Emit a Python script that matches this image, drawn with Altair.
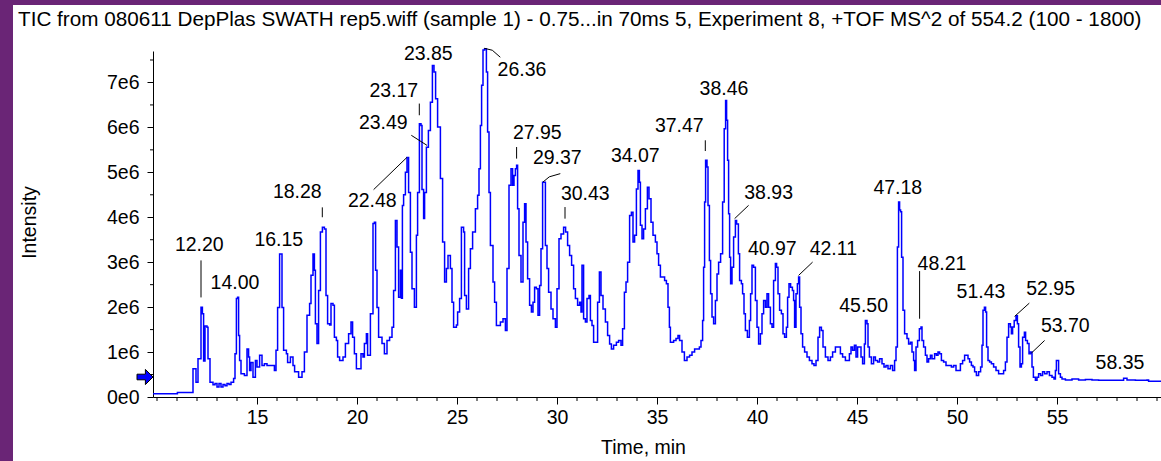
import altair as alt
import pandas as pd

# ---------------- data ----------------
times = [9.8, 11.0, 11.02, 11.7, 11.8, 11.9, 11.95, 12.05, 12.15, 12.2, 12.27, 12.33, 12.4, 12.5, 12.55,
         12.6, 12.65, 12.8, 12.9, 13.0, 13.1, 13.2, 13.3, 13.4, 13.5, 13.6, 13.7, 13.83, 13.9, 13.97,
         14.03, 14.08, 14.13, 14.2, 14.37, 14.5, 14.58, 14.63, 14.7, 14.8, 14.92, 15.0, 15.13, 15.25,
         15.37, 15.5, 15.7, 15.87, 15.95, 16.03, 16.13, 16.2, 16.25, 16.33, 16.47, 16.53, 16.67, 16.8,
         16.88, 17.08, 17.25, 17.37, 17.5, 17.63, 17.7, 17.8, 17.87, 17.92, 18.0, 18.08, 18.17, 18.27,
         18.37, 18.45, 18.53, 18.63, 18.7, 18.8, 18.87, 18.97, 19.03, 19.13, 19.3, 19.42, 19.58, 19.7,
         19.78, 19.87, 19.97, 20.08, 20.2, 20.3, 20.37, 20.47, 20.53, 20.67, 20.8, 20.87, 20.93, 21.0,
         21.08, 21.25, 21.37, 21.5, 21.63, 21.75, 21.83, 21.92, 22.0, 22.08, 22.17, 22.22, 22.27, 22.33,
         22.42, 22.5, 22.58, 22.67, 22.75, 22.87, 22.97, 23.03, 23.12, 23.2, 23.25, 23.33, 23.38, 23.47,
         23.57, 23.67, 23.77, 23.85, 23.93, 24.03, 24.17, 24.28, 24.38, 24.47, 24.55, 24.67, 24.75,
         24.83, 24.97, 25.03, 25.13, 25.22, 25.33, 25.38, 25.47, 25.58, 25.67, 25.78, 25.92, 26.03,
         26.1, 26.17, 26.23, 26.3, 26.38, 26.47, 26.53, 26.6, 26.67, 26.8, 26.88, 26.97, 27.08, 27.17,
         27.3, 27.42, 27.5, 27.6, 27.7, 27.78, 27.85, 27.92, 27.98, 28.03, 28.1, 28.2, 28.3, 28.38,
         28.45, 28.53, 28.63, 28.72, 28.8, 28.88, 28.97, 29.05, 29.13, 29.2, 29.28, 29.37, 29.42, 29.5,
         29.58, 29.7, 29.8, 29.92, 30.0, 30.1, 30.2, 30.33, 30.43, 30.53, 30.63, 30.73, 30.83, 30.92,
         31.03, 31.13, 31.2, 31.25, 31.33, 31.42, 31.5, 31.6, 31.67, 31.75, 31.83, 31.95, 32.03, 32.12,
         32.2, 32.3, 32.42, 32.53, 32.63, 32.72, 32.83, 32.97, 33.08, 33.2, 33.28, 33.37, 33.45, 33.53,
         33.63, 33.72, 33.8, 33.88, 33.97, 34.05, 34.12, 34.17, 34.25, 34.33, 34.42, 34.52, 34.6, 34.7,
         34.8, 34.92, 35.0, 35.08, 35.17, 35.28, 35.38, 35.47, 35.55, 35.62, 35.67, 35.83, 35.95, 36.05,
         36.13, 36.25, 36.37, 36.5, 36.63, 36.75, 36.88, 37.0, 37.12, 37.2, 37.28, 37.33, 37.38, 37.43,
         37.5, 37.55, 37.62, 37.68, 37.75, 37.83, 37.92, 38.0, 38.08, 38.18, 38.28, 38.36, 38.43, 38.48,
         38.53, 38.58, 38.63, 38.68, 38.75, 38.83, 38.92, 38.98, 39.07, 39.13, 39.22, 39.28, 39.35,
         39.42, 39.52, 39.62, 39.68, 39.75, 39.83, 39.92, 40.0, 40.08, 40.17, 40.25, 40.33, 40.42, 40.5,
         40.58, 40.67, 40.75, 40.83, 40.92, 40.98, 41.05, 41.13, 41.22, 41.3, 41.38, 41.47, 41.53, 41.6,
         41.68, 41.77, 41.83, 41.88, 41.95, 42.02, 42.08, 42.13, 42.2, 42.28, 42.38, 42.5, 42.62, 42.75,
         42.85, 42.95, 43.05, 43.13, 43.22, 43.3, 43.42, 43.55, 43.67, 43.78, 43.92, 44.05, 44.17,
         44.28, 44.42, 44.52, 44.62, 44.7, 44.78, 44.87, 44.95, 45.03, 45.12, 45.2, 45.28, 45.37, 45.42,
         45.5, 45.55, 45.62, 45.72, 45.83, 45.92, 46.03, 46.13, 46.25, 46.35, 46.45, 46.55, 46.67,
         46.78, 46.88, 46.95, 47.02, 47.08, 47.13, 47.18, 47.23, 47.3, 47.38, 47.5, 47.58, 47.67, 47.75,
         47.83, 47.88, 47.95, 48.03, 48.12, 48.2, 48.25, 48.33, 48.42, 48.5, 48.58, 48.67, 48.75, 48.88,
         48.97, 49.05, 49.13, 49.22, 49.33, 49.45, 49.58, 49.72, 49.83, 49.95, 50.05, 50.17, 50.28,
         50.38, 50.47, 50.55, 50.63, 50.72, 50.8, 50.88, 50.97, 51.08, 51.18, 51.25, 51.3, 51.37, 51.43,
         51.48, 51.55, 51.63, 51.72, 51.83, 51.95, 52.08, 52.22, 52.33, 52.42, 52.5, 52.58, 52.67,
         52.72, 52.78, 52.86, 52.95, 53.02, 53.08, 53.15, 53.22, 53.28, 53.37, 53.43, 53.52, 53.6,
         53.67, 53.75, 53.82, 53.92, 54.0, 54.08, 54.18, 54.28, 54.38, 54.5, 54.62, 54.75, 54.85, 54.92,
         54.97, 55.03, 55.08, 55.17, 55.25, 55.42, 55.75, 56.08, 56.42, 56.75, 57.08, 57.42, 57.75,
         58.08, 58.33, 58.5, 58.92, 59.5, 59.58, 60.2]

intensity_e6 = [0.07, 0.07, 0.1, 0.1, 0.63, 0.63, 0.33, 0.85, 0.85, 2.0, 1.85, 0.8, 1.58, 1.55, 0.85,
                0.85, 0.33, 0.27, 0.3, 0.22, 0.3, 0.22, 0.28, 0.25, 0.3, 0.28, 0.33, 0.41, 0.96, 2.19,
                2.22, 1.37, 0.81, 0.52, 0.48, 1.07, 0.89, 0.59, 0.77, 0.44, 0.81, 0.67, 0.93, 0.70,
                0.74, 0.70, 0.70, 0.59, 1.04, 1.99, 3.18, 3.18, 1.99, 1.04, 0.96, 0.77, 0.89, 0.70,
                0.56, 0.44, 0.56, 1.0, 1.82, 2.08, 2.71, 3.18, 2.82, 1.63, 1.19, 2.37, 3.67, 3.78,
                3.74, 2.26, 1.63, 1.6, 2.08, 2.04, 1.33, 1.26, 0.89, 0.81, 0.89, 1.19, 1.41, 1.67,
                1.33, 0.96, 0.63, 0.63, 0.96, 0.89, 1.19, 1.41, 0.93, 1.85, 3.86, 3.89, 2.82, 1.99,
                1.33, 1.19, 0.96, 1.26, 1.33, 1.55, 2.37, 3.93, 3.34, 2.22, 2.82, 2.2, 4.26, 4.5,
                5.0, 5.33, 4.55, 3.22, 2.41, 2.0, 3.6, 4.55, 6.08, 6.04, 4.62, 3.97, 4.55, 5.56,
                5.93, 6.56, 7.38, 7.23, 6.64, 6.01, 4.86, 3.45, 2.56, 2.86, 3.15, 2.86, 2.11,
                1.55, 1.6, 1.89, 2.19, 3.78, 3.67, 2.26, 1.96, 2.86, 3.3, 3.67, 4.19, 4.49,
                5.08, 6.04, 6.94, 7.72, 7.75, 7.23, 5.9, 4.55, 3.37, 2.56, 2.11, 1.59, 1.59, 1.67,
                1.74, 1.48, 2.86, 4.71, 5.08, 4.71, 4.93, 5.08, 5.16, 4.19, 3.15, 2.56, 3.89, 4.3,
                3.45, 2.63, 2.04, 1.89, 2.11, 2.44, 2.41, 1.82, 2.48, 3.3, 4.78, 4.78, 3.37, 2.86,
                2.33, 1.96, 1.74, 1.55, 2.41, 3.52, 3.63, 3.78, 3.67, 3.37, 3.15, 2.93, 2.41, 2.19,
                2.04, 2.11, 1.89, 2.93, 1.74, 1.67, 2.19, 2.26, 1.7, 1.59, 1.22, 1.22, 2.11, 2.78,
                2.26, 1.96, 1.67, 1.37, 1.18, 1.07, 1.15, 1.22, 1.26, 1.15, 1.52, 2.33, 2.56, 3.0,
                4.04, 4.11, 3.45, 3.6, 4.63, 5.04, 4.78, 3.82, 3.52, 3.74, 4.19, 4.67, 4.41, 3.89,
                3.6, 3.45, 3.19, 2.93, 2.67, 2.67, 2.59, 2.52, 2.0, 1.55, 1.22, 1.26, 1.3, 1.37,
                1.26, 1.0, 0.81, 0.89, 0.93, 1.0, 1.07, 1.07, 1.11, 1.26, 1.7, 2.89, 4.34, 5.27,
                5.12, 4.26, 3.04, 2.3, 1.78, 1.63, 2.15, 2.74, 3.0, 3.19, 4.34, 5.97, 6.6, 6.16,
                5.27, 4.08, 3.11, 2.52, 2.89, 3.56, 3.93, 3.85, 3.19, 2.59, 2.52, 2.3, 1.85,
                1.48, 1.33, 1.7, 2.3, 2.93, 2.89, 2.15, 1.55, 1.18, 1.41, 1.85, 2.15, 2.0, 2.3,
                2.0, 1.63, 1.55, 2.59, 2.97, 2.89, 2.3, 1.93, 1.85, 1.41, 1.33, 1.55, 2.22, 2.52,
                2.44, 2.37, 2.15, 1.55, 2.3, 2.52, 2.67, 2.0, 1.41, 1.11, 1.0, 0.89, 0.81, 0.74,
                0.7, 0.81, 1.33, 1.55, 1.48, 1.11, 0.89, 0.81, 0.89, 1.0, 1.11, 1.11, 0.96,
                0.89, 0.81, 0.81, 0.96, 1.11, 1.04, 1.15, 0.89, 1.11, 1.11, 0.89, 0.74, 1.18, 1.7,
                1.63, 1.11, 0.89, 0.74, 0.89, 0.81, 0.78, 0.85, 0.74, 0.67, 0.7, 0.63, 0.7,
                0.59, 0.81, 1.11, 3.34, 4.34, 4.16, 4.12, 3.11, 1.93, 1.41, 1.3, 1.18, 1.22, 1.0,
                0.81, 0.59, 1.11, 1.26, 1.52, 1.56, 1.26, 1.11, 0.93, 0.78, 0.85, 0.93, 0.85, 0.96,
                0.93, 1.0, 0.96, 0.81, 0.78, 0.70, 0.70, 0.67, 0.70, 0.59, 0.59, 0.74, 0.81,
                0.93, 0.93, 0.85, 0.78, 0.70, 0.67, 0.56, 0.48, 0.56, 0.67, 1.15, 1.93, 2.0, 1.89,
                1.11, 0.81, 0.78, 0.74, 0.67, 0.59, 0.52, 0.52, 0.59, 0.78, 1.33, 1.63, 1.56,
                1.41, 1.56, 1.7, 1.81, 1.63, 1.11, 0.67, 0.74, 1.33, 1.44, 1.26, 1.19, 0.96,
                1.0, 0.67, 0.44, 0.37, 0.44, 0.52, 0.48, 0.56, 0.52, 0.56, 0.48, 0.44, 0.40, 0.59,
                0.81, 0.81, 0.52, 0.44, 0.40, 0.38, 0.40, 0.38, 0.39, 0.38, 0.37, 0.37, 0.37,
                0.37, 0.42, 0.38, 0.37, 0.38, 0.35, 0.35]

# peak annotations: text, and where the text centre sits (minutes, intensity in 1e6)
label_text = ["12.20", "14.00", "16.15", "18.28", "22.48", "23.49", "23.17", "23.85", "26.36",
              "27.95", "29.37", "30.43", "34.07", "37.47", "38.46", "38.93", "40.97", "42.11",
              "45.50", "47.18", "48.21", "51.43", "52.95", "53.70", "58.35"]
label_t = [12.115, 13.9, 16.09, 17.015, 20.765, 21.315, 21.84, 23.565, 28.25,
           29.015, 30.015, 31.415, 33.915, 36.115, 38.35, 40.58, 40.765, 43.815,
           45.33, 47.04, 49.25, 51.2, 54.68, 55.415, 58.15]
label_v = [3.374, 2.539, 3.497, 4.561, 4.354, 6.09, 6.804, 7.633, 7.272,
           5.880, 5.312, 4.510, 5.367, 6.031, 6.849, 4.543, 3.285, 3.285,
           2.022, 4.655, 2.951, 2.343, 2.410, 1.577, 0.746]

# leader lines from label to peak
leader_id = [0, 0, 1, 1, 2, 2, 3, 3, 4, 4, 5, 5, 5, 6, 6, 7, 7, 7, 8, 8, 9, 9, 10, 10, 11, 11,
             12, 12, 13, 13, 14, 14]
leader_t = [12.2, 12.2, 18.265, 18.265, 20.83, 22.5, 22.715, 23.5, 23.115, 23.115,
            26.365, 26.765, 27.165, 27.98, 27.98, 29.3, 29.615, 30.165, 30.4, 30.4,
            37.415, 37.415, 39.58, 38.88, 42.78, 42.08, 48.13, 48.13, 53.615, 52.88,
            54.38, 53.715]
leader_v = [3.04, 2.216, 4.22, 4.0, 4.615, 5.334, 5.824, 5.6, 6.53, 6.27,
            7.76, 7.717, 7.561, 5.563, 5.305, 4.784, 4.9, 4.971, 4.227, 3.969,
            5.713, 5.474, 4.265, 3.969, 3.002, 2.706, 2.802, 1.742, 2.089, 1.793,
            1.258, 0.976]

x_major = [15, 20, 25, 30, 35, 40, 45, 50, 55]
x_minor = [10, 11, 12, 13, 14, 16, 17, 18, 19, 21, 22, 23, 24, 26, 27, 28, 29, 31, 32, 33, 34,
           36, 37, 38, 39, 41, 42, 43, 44, 46, 47, 48, 49, 51, 52, 53, 54, 56, 57, 58, 59, 60]
y_major_e6 = [0, 1, 2, 3, 4, 5, 6, 7]
y_minor_e6 = [0.5, 1.5, 2.5, 3.5, 4.5, 5.5, 6.5, 7.5]

title_text = ("TIC from 080611 DepPlas SWATH rep5.wiff (sample 1) - 0.75...in 70ms 5, "
              "Experiment 8, +TOF MS^2 of 554.2 (100 - 1800)")

# ---------------- build tables ----------------
trace_df = pd.DataFrame({"t": times, "v": [v * 1e6 for v in intensity_e6]})
label_df = pd.DataFrame({"text": label_text, "t": label_t, "v": [v * 1e6 for v in label_v]})
leader_df = pd.DataFrame({"id": leader_id, "t": leader_t, "v": [v * 1e6 for v in leader_v]})
xminor_df = pd.DataFrame({"t": x_minor})
yminor_df = pd.DataFrame({"v": [v * 1e6 for v in y_minor_e6]})
one = pd.DataFrame({"a": [0]})

W, H = 1008, 346
FONT = "Liberation Sans, Arial, Helvetica, sans-serif"
FS = 19.5
xs = alt.Scale(domain=[9.8, 60.2], nice=False, zero=False)
ys = alt.Scale(domain=[0, 7.7e6], nice=False, zero=False)

x_axis = alt.Axis(values=x_major, tickSize=7, tickColor="black", domainColor="black",
                  labelColor="black", labelFont=FONT, labelFontSize=FS, labelPadding=4,
                  labelFlush=False, grid=False, title="Time, min", titleFont=FONT,
                  titleFontSize=FS, titleFontWeight="normal", titleColor="black",
                  titleX=490, titleY=50, titleBaseline="middle")
y_axis = alt.Axis(values=[v * 1e6 for v in y_major_e6], tickSize=6, tickColor="black",
                  domainColor="black", labelColor="black", labelFont=FONT, labelFontSize=FS,
                  labelPadding=8, grid=False,
                  labelExpr="datum.value == 0 ? '0e0' : round(datum.value / 1e6) + 'e6'",
                  title="Intensity", titleFont=FONT, titleFontSize=FS,
                  titleFontWeight="normal", titleColor="black", titleX=-118, titleY=171,
                  titleBaseline="alphabetic")

trace = alt.Chart(trace_df).mark_line(color="#0000FF", strokeWidth=1.5,
                                      interpolate="step-after").encode(
    x=alt.X("t:Q", scale=xs, axis=x_axis),
    y=alt.Y("v:Q", scale=ys, axis=y_axis),
)

leaders = alt.Chart(leader_df).mark_line(color="black", strokeWidth=1).encode(
    x=alt.X("t:Q", scale=xs),
    y=alt.Y("v:Q", scale=ys),
    detail="id:N",
)

labels = alt.Chart(label_df).mark_text(font=FONT, fontSize=FS, color="black",
                                       align="center", baseline="middle").encode(
    x=alt.X("t:Q", scale=xs),
    y=alt.Y("v:Q", scale=ys),
    text="text:N",
)

xminor = alt.Chart(xminor_df).mark_rule(color="black", strokeWidth=1).encode(
    x=alt.X("t:Q", scale=xs),
    y=alt.value(H), y2=alt.value(H + 4),
)
yminor = alt.Chart(yminor_df).mark_rule(color="black", strokeWidth=1).encode(
    y=alt.Y("v:Q", scale=ys),
    x=alt.value(-3), x2=alt.value(0),
)

arrow_path = "M-1,-0.35 L0.05,-0.35 L0.05,-0.95 L1,0 L0.05,0.95 L0.05,0.35 L-1,0.35 Z"
arrow = alt.Chart(one).mark_point(shape=arrow_path, size=256, filled=True, fill="#0000FF",
                                  stroke="black", strokeWidth=1, opacity=1).encode(
    x=alt.value(-8), y=alt.value(326),
)

title = alt.Chart(one).mark_text(text=title_text, font=FONT, fontSize=20.7, color="black",
                                 align="left", baseline="alphabetic").encode(
    x=alt.value(-135), y=alt.value(-25),
)

purple = "#6A2576"
left_band = alt.Chart(one).mark_rect(color=purple).encode(
    x=alt.value(-153), x2=alt.value(-140), y=alt.value(-51), y2=alt.value(H + 64),
)
top_band = alt.Chart(one).mark_rect(color=purple).encode(
    x=alt.value(-153), x2=alt.value(W), y=alt.value(-51), y2=alt.value(-46),
)

chart = alt.layer(trace, xminor, yminor, leaders, labels, arrow, title, left_band, top_band).properties(
    width=W, height=H,
    autosize=alt.AutoSizeParams(type="none"),
    padding={"left": 153, "top": 51, "right": 0, "bottom": 64},
    background="white",
).configure_view(stroke=None)

chart.save("out.html", embed_options={"renderer": "svg", "actions": False})
